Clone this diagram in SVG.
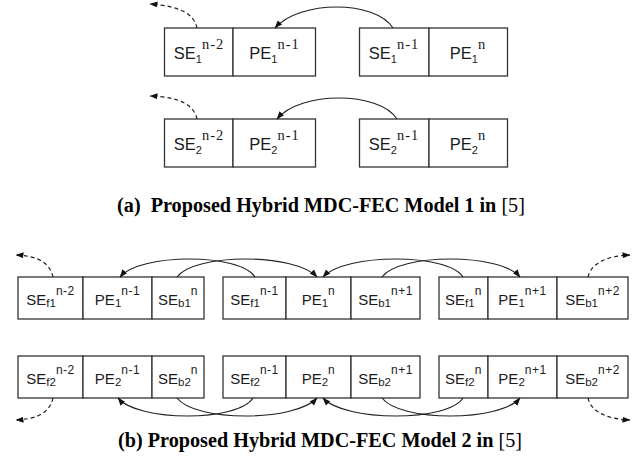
<svg xmlns="http://www.w3.org/2000/svg" width="643" height="465" viewBox="0 0 643 465">
<style>
.cell{fill:#fff;stroke:#333;stroke-width:1.3}
.lbl{font-family:"Liberation Sans",Arial,sans-serif;fill:#1a1a1a;text-anchor:middle}
.la{font-size:16.5px}
.lb{font-size:15px}
.suba{font-size:11px}
.supa{font-family:"Liberation Serif","Times New Roman",serif;font-size:14.5px;letter-spacing:1px}
.subb{font-size:11.5px}
.supb{font-size:12px;letter-spacing:0.5px}
.con{fill:none;stroke:#222;stroke-width:1.2}
.dash{stroke-dasharray:4,3}
.cap{font-family:"Liberation Serif","Times New Roman",serif;font-size:20.2px;font-weight:bold;fill:#000;text-anchor:middle}
</style>
<defs>
<marker id="ah" viewBox="0 0 8 6" refX="7.5" refY="3" markerWidth="8" markerHeight="6" markerUnits="userSpaceOnUse" orient="auto">
<path d="M0,0 L8,3 L0,6 z" fill="#111"/>
</marker>
</defs>

<!-- (a) row 1 -->
<g id="a-se1-n2"><rect class="cell" x="164.5" y="28" width="68.5" height="48"/><text class="lbl la" x="199" y="59">SE<tspan class="suba" dy="4">1</tspan><tspan class="supa" dy="-14">n-2</tspan></text></g>
<g id="a-pe1-n1"><rect class="cell" x="233" y="28" width="82.5" height="48"/><text class="lbl la" x="274.5" y="59">PE<tspan class="suba" dy="4">1</tspan><tspan class="supa" dy="-14">n-1</tspan></text></g>
<g id="a-se1-n1"><rect class="cell" x="359.5" y="28" width="69.5" height="48"/><text class="lbl la" x="394" y="59">SE<tspan class="suba" dy="4">1</tspan><tspan class="supa" dy="-14">n-1</tspan></text></g>
<g id="a-pe1-n"><rect class="cell" x="429" y="28" width="78.5" height="48"/><text class="lbl la" x="468" y="59">PE<tspan class="suba" dy="4">1</tspan><tspan class="supa" dy="-14">n</tspan></text></g>

<!-- (a) row 2 -->
<g id="a-se2-n2"><rect class="cell" x="164.5" y="119" width="68.5" height="48"/><text class="lbl la" x="199" y="150">SE<tspan class="suba" dy="4">2</tspan><tspan class="supa" dy="-14">n-2</tspan></text></g>
<g id="a-pe2-n1"><rect class="cell" x="233" y="119" width="82.5" height="48"/><text class="lbl la" x="274.5" y="150">PE<tspan class="suba" dy="4">2</tspan><tspan class="supa" dy="-14">n-1</tspan></text></g>
<g id="a-se2-n1"><rect class="cell" x="359.5" y="119" width="69.5" height="48"/><text class="lbl la" x="394" y="150">SE<tspan class="suba" dy="4">2</tspan><tspan class="supa" dy="-14">n-1</tspan></text></g>
<g id="a-pe2-n"><rect class="cell" x="429" y="119" width="78.5" height="48"/><text class="lbl la" x="468" y="150">PE<tspan class="suba" dy="4">2</tspan><tspan class="supa" dy="-14">n</tspan></text></g>

<!-- (b) row 1 -->
<g id="b-sef1-n2"><rect class="cell" x="18" y="277" width="65" height="42"/><text class="lbl lb" x="50.5" y="305">SE<tspan class="subb" dy="2">f1</tspan><tspan class="supb" dy="-12">n-2</tspan></text></g>
<g id="b-pe1-n1"><rect class="cell" x="83" y="277" width="69" height="42"/><text class="lbl lb" x="117.5" y="305">PE<tspan class="subb" dy="2">1</tspan><tspan class="supb" dy="-12">n-1</tspan></text></g>
<g id="b-seb1-n"><rect class="cell" x="152" y="277" width="52" height="42"/><text class="lbl lb" x="178" y="305">SE<tspan class="subb" dy="2">b1</tspan><tspan class="supb" dy="-12">n</tspan></text></g>
<g id="b-sef1-n1"><rect class="cell" x="223" y="277" width="63" height="42"/><text class="lbl lb" x="254.5" y="305">SE<tspan class="subb" dy="2">f1</tspan><tspan class="supb" dy="-12">n-1</tspan></text></g>
<g id="b-pe1-n"><rect class="cell" x="286" y="277" width="65" height="42"/><text class="lbl lb" x="318.5" y="305">PE<tspan class="subb" dy="2">1</tspan><tspan class="supb" dy="-12">n</tspan></text></g>
<g id="b-seb1-n1"><rect class="cell" x="351" y="277" width="69" height="42"/><text class="lbl lb" x="385.5" y="305">SE<tspan class="subb" dy="2">b1</tspan><tspan class="supb" dy="-12">n+1</tspan></text></g>
<g id="b-sef1-n"><rect class="cell" x="439" y="277" width="49" height="42"/><text class="lbl lb" x="463.5" y="305">SE<tspan class="subb" dy="2">f1</tspan><tspan class="supb" dy="-12">n</tspan></text></g>
<g id="b-pe1-n+1"><rect class="cell" x="488" y="277" width="69" height="42"/><text class="lbl lb" x="522.5" y="305">PE<tspan class="subb" dy="2">1</tspan><tspan class="supb" dy="-12">n+1</tspan></text></g>
<g id="b-seb1-n2"><rect class="cell" x="557" y="277" width="71" height="42"/><text class="lbl lb" x="592.5" y="305">SE<tspan class="subb" dy="2">b1</tspan><tspan class="supb" dy="-12">n+2</tspan></text></g>

<!-- (b) row 2 -->
<g id="b-sef2-n2"><rect class="cell" x="18" y="356" width="65" height="42"/><text class="lbl lb" x="50.5" y="384">SE<tspan class="subb" dy="2">f2</tspan><tspan class="supb" dy="-12">n-2</tspan></text></g>
<g id="b-pe2-n1"><rect class="cell" x="83" y="356" width="69" height="42"/><text class="lbl lb" x="117.5" y="384">PE<tspan class="subb" dy="2">2</tspan><tspan class="supb" dy="-12">n-1</tspan></text></g>
<g id="b-seb2-n"><rect class="cell" x="152" y="356" width="52" height="42"/><text class="lbl lb" x="178" y="384">SE<tspan class="subb" dy="2">b2</tspan><tspan class="supb" dy="-12">n</tspan></text></g>
<g id="b-sef2-n1"><rect class="cell" x="223" y="356" width="63" height="42"/><text class="lbl lb" x="254.5" y="384">SE<tspan class="subb" dy="2">f2</tspan><tspan class="supb" dy="-12">n-1</tspan></text></g>
<g id="b-pe2-n"><rect class="cell" x="286" y="356" width="65" height="42"/><text class="lbl lb" x="318.5" y="384">PE<tspan class="subb" dy="2">2</tspan><tspan class="supb" dy="-12">n</tspan></text></g>
<g id="b-seb2-n1"><rect class="cell" x="351" y="356" width="69" height="42"/><text class="lbl lb" x="385.5" y="384">SE<tspan class="subb" dy="2">b2</tspan><tspan class="supb" dy="-12">n+1</tspan></text></g>
<g id="b-sef2-n"><rect class="cell" x="439" y="356" width="49" height="42"/><text class="lbl lb" x="463.5" y="384">SE<tspan class="subb" dy="2">f2</tspan><tspan class="supb" dy="-12">n</tspan></text></g>
<g id="b-pe2-n+1"><rect class="cell" x="488" y="356" width="69" height="42"/><text class="lbl lb" x="522.5" y="384">PE<tspan class="subb" dy="2">2</tspan><tspan class="supb" dy="-12">n+1</tspan></text></g>
<g id="b-seb2-n2"><rect class="cell" x="557" y="356" width="71" height="42"/><text class="lbl lb" x="592.5" y="384">SE<tspan class="subb" dy="2">b2</tspan><tspan class="supb" dy="-12">n+2</tspan></text></g>

<g id="connectors">
<!-- (a) -->
<path class="con" d="M393,28 C375,0 300,0 275,28" marker-end="url(#ah)"/>
<path class="con dash" d="M197,28 C194,14 180,6 150,4" marker-end="url(#ah)"/>
<path class="con" d="M397,119 C379,91 300,91 277,119" marker-end="url(#ah)"/>
<path class="con dash" d="M197,119 C194,105 180,97 150,96" marker-end="url(#ah)"/>
<!-- (b) top -->
<path class="con" d="M255,277 C240,253 140,253 120,277" marker-end="url(#ah)"/>
<path class="con" d="M177,277 C195,253 295,253 317,277" marker-end="url(#ah)"/>
<path class="con" d="M463,277 C448,253 345,253 323,277" marker-end="url(#ah)"/>
<path class="con" d="M382,277 C400,253 500,253 520,277" marker-end="url(#ah)"/>
<path class="con dash" d="M53,277 C50,264 40,256 16,255" marker-end="url(#ah)"/>
<path class="con dash" d="M588,277 C591,264 605,256 630,255" marker-end="url(#ah)"/>
<!-- (b) bottom -->
<path class="con" d="M253,398 C238,422 138,422 118,398" marker-end="url(#ah)"/>
<path class="con" d="M177,398 C195,422 295,422 317,398" marker-end="url(#ah)"/>
<path class="con" d="M463,398 C448,422 345,422 323,398" marker-end="url(#ah)"/>
<path class="con" d="M382,398 C400,422 500,422 520,398" marker-end="url(#ah)"/>
<path class="con dash" d="M53,398 C50,411 40,419 16,420" marker-end="url(#ah)"/>
<path class="con dash" d="M588,398 C591,411 605,419 630,420" marker-end="url(#ah)"/>
</g>

<text class="cap" x="321" y="212">(a)&#160; Proposed Hybrid MDC-FEC Model 1 in <tspan font-weight="normal">[5]</tspan></text>
<text class="cap" x="320" y="447">(b) Proposed Hybrid MDC-FEC Model 2 in <tspan font-weight="normal">[5]</tspan></text>
</svg>
